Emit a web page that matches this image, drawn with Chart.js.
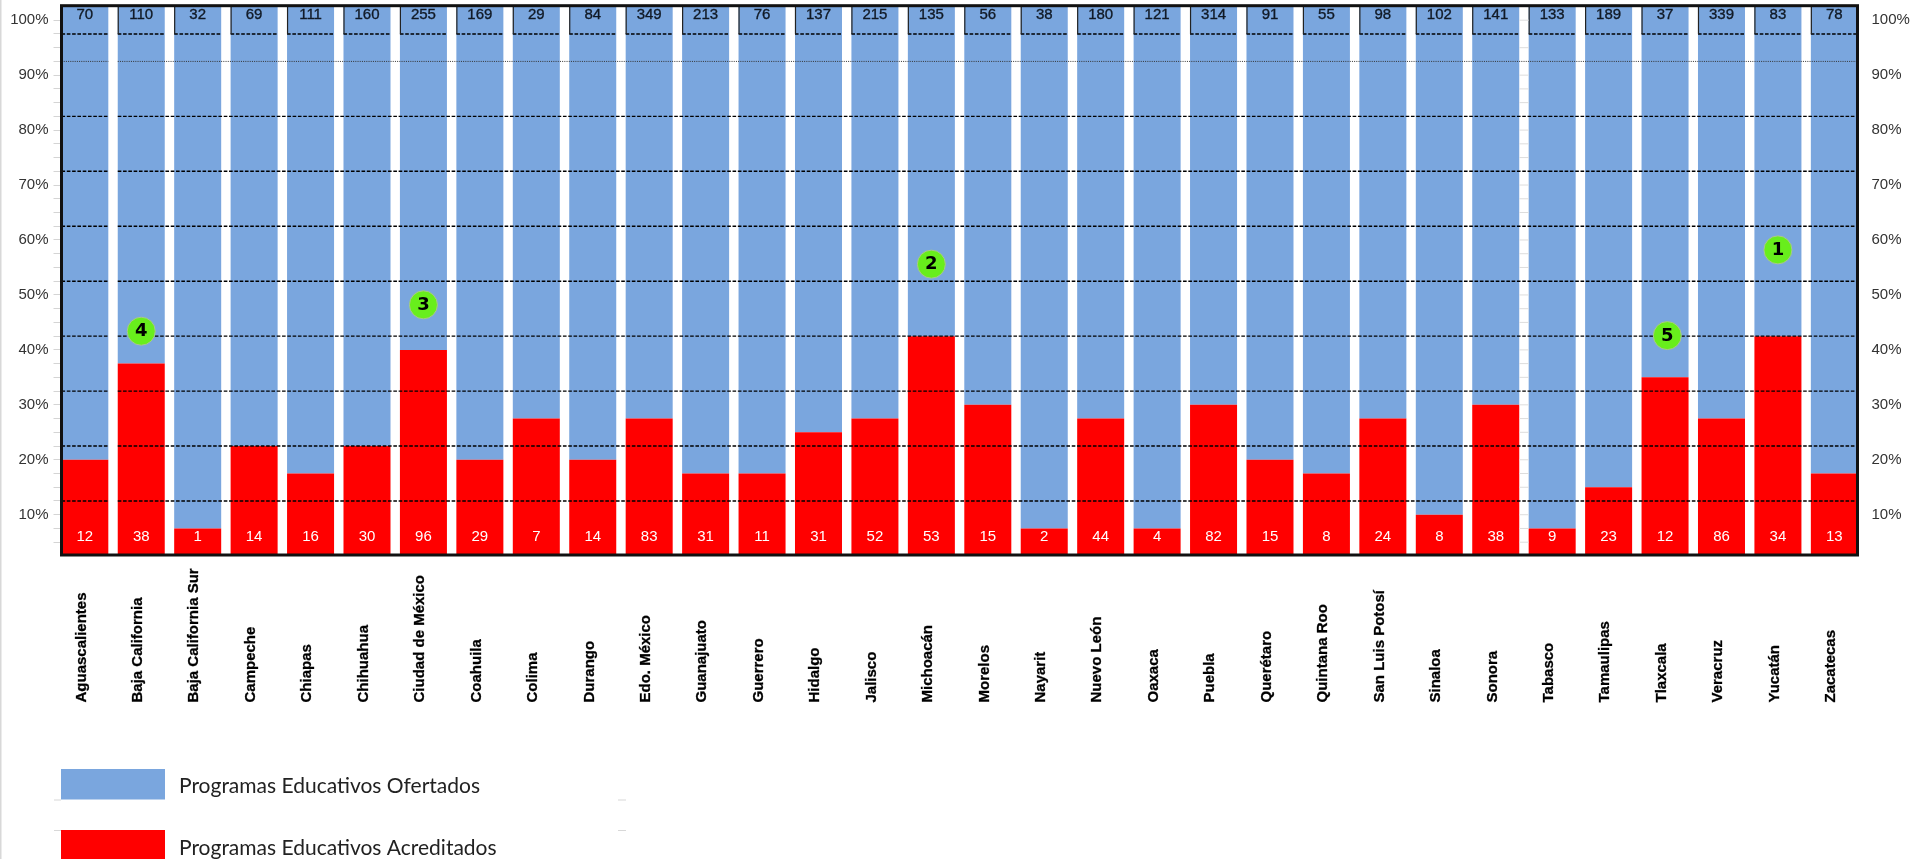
<!DOCTYPE html>
<html lang="es">
<head>
<meta charset="utf-8">
<title>Programas educativos por estado</title>
<script src="https://cdn.jsdelivr.net/npm/chart.js@4"></script>
<style>
    html, body { margin: 0; padding: 0; background: #fff; overflow: hidden; }
    canvas { display: block; filter: blur(0.4px); }
</style>
</head>
<body>
<canvas id="chartProgramas" width="1915" height="859"></canvas>
<script>
const estados = ['Aguascalientes', 'Baja California', 'Baja California Sur', 'Campeche', 'Chiapas', 'Chihuahua',
    'Ciudad de México', 'Coahuila', 'Colima', 'Durango', 'Edo. México', 'Guanajuato', 'Guerrero', 'Hidalgo',
    'Jalisco', 'Michoacán', 'Morelos', 'Nayarit', 'Nuevo León', 'Oaxaca', 'Puebla', 'Querétaro', 'Quintana Roo',
    'San Luis Potosí', 'Sinaloa', 'Sonora', 'Tabasco', 'Tamaulipas', 'Tlaxcala', 'Veracruz', 'Yucatán', 'Zacatecas'];

// numbers printed on the bars
const ofertados = [70, 110, 32, 69, 111, 160, 255, 169, 29, 84, 349, 213, 76, 137, 215, 135,
    56, 38, 180, 121, 314, 91, 55, 98, 102, 141, 133, 189, 37, 339, 83, 78];
const acreditados = [12, 38, 1, 14, 16, 30, 96, 29, 7, 14, 83, 31, 11, 31, 52, 53,
    15, 2, 44, 4, 82, 15, 8, 24, 8, 38, 9, 23, 12, 86, 34, 13];

// bar heights as read against the % axis
const acreditadosPct = [20, 37.5, 7.5, 22.5, 17.5, 22.5, 40, 20, 27.5, 20, 27.5, 17.5, 17.5, 25, 27.5, 42.5,
    30, 7.5, 27.5, 7.5, 30, 20, 17.5, 27.5, 10, 30, 7.5, 15, 35, 27.5, 42.5, 17.5];
const ofertadosPct = [83, 65.5, 95.5, 80.5, 85.5, 80.5, 63, 83, 75.5, 83, 75.5, 85.5, 85.5, 78, 75.5, 60.5,
    73, 95.5, 75.5, 95.5, 73, 83, 85.5, 75.5, 93, 73, 95.5, 88, 68, 75.5, 60.5, 85.5];

// green rank badges
const rankNumeros = [1, 2, 3, 4, 5];
const rankEstado = [30, 15, 6, 1, 28.04];
const rankPct = [58.2, 55.6, 48.2, 43.4, 42.6];

const yTicks = [5, 7.5, 10, 12.5, 15, 17.5, 20, 22.5, 25, 27.5, 30, 32.5, 35, 37.5, 40, 42.5, 45, 47.5, 50,
    52.5, 55, 57.5, 60, 62.5, 65, 67.5, 70, 72.5, 75, 77.5, 80, 82.5, 85, 87.5, 90, 92.5, 95, 97.5, 100];
const gridLines = [82.5, 72.5, 62.5, 52.5, 42.5, 32.5, 22.5, 12.5];
const gridTop = 97.5;
const gridDotted = 92.5;

const LABEL_FONT = '"Liberation Sans", Arial, sans-serif';
const BLUE = '#7aa6de';
const RED = '#ff0000';

const percentTick = value => (value % 10 === 0 ? value + '%' : '');

function hline(ctx, x0, x1, y) {
    ctx.beginPath();
    ctx.moveTo(x0, y);
    ctx.lineTo(x1, y);
    ctx.stroke();
}

// fixed axis width, and no extra room for the first/last tick label
function fixWidth(scale, width) {
    scale.width = width;
    scale.paddingTop = 0;
    scale.paddingBottom = 0;
}

// dashed lines run over the bars, on top of them but under the badges
const gridPlugin = {
    id: 'gridOverBars',
    beforeDatasetDraw(chart, args) {
        if (args.meta.type !== 'bubble') return;
        const { ctx, chartArea, scales } = chart;
        const bars = chart.getDatasetMeta(1).data;
        const right = chartArea.right;
        const left2 = bars[1].x - bars[1].width / 2;
        ctx.save();
        ctx.strokeStyle = '#000';
        ctx.lineWidth = 1.4;

        ctx.setLineDash([3.6, 1.7]);
        gridLines.forEach(v => {
            const y = scales.y.getPixelForValue(v);
            hline(ctx, chartArea.left, bars[0].x + bars[0].width / 2, y);
            hline(ctx, left2, right, y);
        });
        const yTop = scales.y.getPixelForValue(gridTop);
        bars.forEach(b => hline(ctx, Math.max(b.x - b.width / 2, chartArea.left), b.x + b.width / 2, yTop));

        ctx.setLineDash([1, 1.2]);
        ctx.lineWidth = 1;
        ctx.strokeStyle = '#333';
        const yDot = scales.y.getPixelForValue(gridDotted);
        hline(ctx, chartArea.left, bars[0].x + bars[0].width / 2, yDot);
        hline(ctx, left2, right, yDot);

        // little verticals closing the header cells
        ctx.setLineDash([]);
        ctx.lineWidth = 1.2;
        ctx.strokeStyle = '#222';
        bars.slice(1).forEach(b => {
            const x = b.x - b.width / 2 + 0.5;
            ctx.beginPath();
            ctx.moveTo(x, chartArea.top);
            ctx.lineTo(x, yTop);
            ctx.stroke();
        });

        // stray pale ticks left in the Sonora / Tabasco gap
        ctx.strokeStyle = '#dddddd';
        ctx.lineWidth = 1;
        const gapL = bars[25].x + bars[25].width / 2;
        const gapR = bars[26].x - bars[26].width / 2;
        yTicks.forEach(v => {
            if (!gridLines.includes(v) && v !== gridDotted && v !== gridTop) {
                hline(ctx, gapL, gapR, scales.y.getPixelForValue(v));
            }
        });
        ctx.restore();
    },
};

const overlayPlugin = {
    id: 'overlay',
    afterDatasetsDraw(chart) {
        const { ctx, chartArea, scales } = chart;
        const bars = chart.getDatasetMeta(1).data;
        ctx.save();

        // counts on the bars
        ctx.font = '15px ' + LABEL_FONT;
        ctx.textAlign = 'center';
        ctx.textBaseline = 'middle';
        bars.forEach((b, i) => {
            ctx.fillStyle = '#111a26';
            ctx.strokeStyle = '#111a26';
            ctx.lineWidth = 0.35;
            ctx.fillText(ofertados[i], b.x, 14.5);
            ctx.strokeText(ofertados[i], b.x, 14.5);
            ctx.fillStyle = '#fff';
            ctx.fillText(acreditados[i], b.x, 536.5);
        });

        // badge numbers
        ctx.font = 'bold 18px "DejaVu Sans", sans-serif';
        ctx.fillStyle = '#000';
        chart.getDatasetMeta(0).data.forEach((pt, i) => {
            ctx.fillText(rankNumeros[i], pt.x, pt.y + 0.5);
        });

        // frame
        ctx.strokeStyle = '#111';
        ctx.lineWidth = 3;
        ctx.strokeRect(chartArea.left, chartArea.top, chartArea.right - chartArea.left, chartArea.bottom - chartArea.top);

        // state names, all starting from the same baseline
        ctx.font = 'bold 15px ' + LABEL_FONT;
        ctx.fillStyle = '#000';
        ctx.strokeStyle = '#000';
        ctx.lineWidth = 0.3;
        ctx.textAlign = 'left';
        ctx.textBaseline = 'alphabetic';
        estados.forEach((name, i) => {
            ctx.save();
            ctx.translate(scales.x.getPixelForValue(i) + 0.8, 702.5);
            ctx.rotate(-Math.PI / 2);
            ctx.fillText(name, 0, 0);
            ctx.strokeText(name, 0, 0);
            ctx.restore();
        });

        // legend
        ctx.textBaseline = 'middle';
        ctx.font = '21px Lato, "Open Sans", sans-serif';
        ctx.fillStyle = '#222';
        ctx.fillText(chart.data.datasets[2].label, 179, 786);
        ctx.fillText(chart.data.datasets[1].label, 179, 848);
        ctx.fillStyle = chart.data.datasets[2].backgroundColor;
        ctx.fillRect(61, 769, 104, 30.5);
        ctx.fillStyle = chart.data.datasets[1].backgroundColor;
        ctx.fillRect(61, 830, 104, 29);

        ctx.fillStyle = '#d8d8d8';
        [799.5, 830].forEach(y => {
            ctx.fillRect(54, y, 7, 1);
            ctx.fillRect(618, y, 8, 1);
        });
        ctx.fillRect(0, 0, 1.5, 859);
        ctx.restore();
    },
};

new Chart(document.getElementById('chartProgramas'), {
    type: 'bar',
    data: {
        datasets: [
            {
                type: 'bubble',
                data: rankNumeros.map((n, i) => ({ x: rankEstado[i], y: rankPct[i], r: 14 })),
                backgroundColor: '#68ee1c',
                borderColor: '#a9c98a',
                borderWidth: 1,
            },
            {
                label: 'Programas Educativos Acreditados',
                data: acreditadosPct.map((v, i) => ({ x: i, y: v })),
                backgroundColor: RED,
            },
            {
                label: 'Programas Educativos Ofertados',
                data: ofertadosPct.map((v, i) => ({ x: i, y: v })),
                backgroundColor: BLUE,
            },
        ],
    },
    options: {
        responsive: false,
        animation: false,
        layout: { autoPadding: false, padding: { top: 5.7 } },
        datasets: { bar: { barPercentage: 0.833, categoryPercentage: 1 } },
        plugins: { legend: { display: false }, tooltip: { enabled: false } },
        scales: {
            x: {
                type: 'linear',
                stacked: true,
                offset: false,
                min: -0.413,
                max: 31.41,
                border: { display: false },
                grid: { display: false, offset: false },
                ticks: { display: false },
                afterFit(scale) { scale.height = 304; },
            },
            y: {
                stacked: true,
                min: 2.67,
                max: 102.64,
                border: { display: false },
                grid: { drawOnChartArea: false, color: '#d4d4d4', tickLength: 8 },
                ticks: {
                    autoSkip: false,
                    padding: 5,
                    color: '#333',
                    font: { family: LABEL_FONT, size: 15 },
                    callback: percentTick,
                },
                afterBuildTicks(scale) { scale.ticks = yTicks.map(value => ({ value })); },
                afterFit(scale) { fixWidth(scale, 61.5); },
            },
            y2: {
                position: 'right',
                min: 2.67,
                max: 102.64,
                border: { display: false },
                grid: { display: false, drawTicks: false },
                ticks: {
                    autoSkip: false,
                    padding: 14,
                    color: '#333',
                    font: { family: LABEL_FONT, size: 15 },
                    callback: percentTick,
                },
                afterBuildTicks(scale) { scale.ticks = yTicks.map(value => ({ value })); },
                afterFit(scale) { fixWidth(scale, 57.5); },
            },
        },
    },
    plugins: [gridPlugin, overlayPlugin],
});
</script>
</body>
</html>
